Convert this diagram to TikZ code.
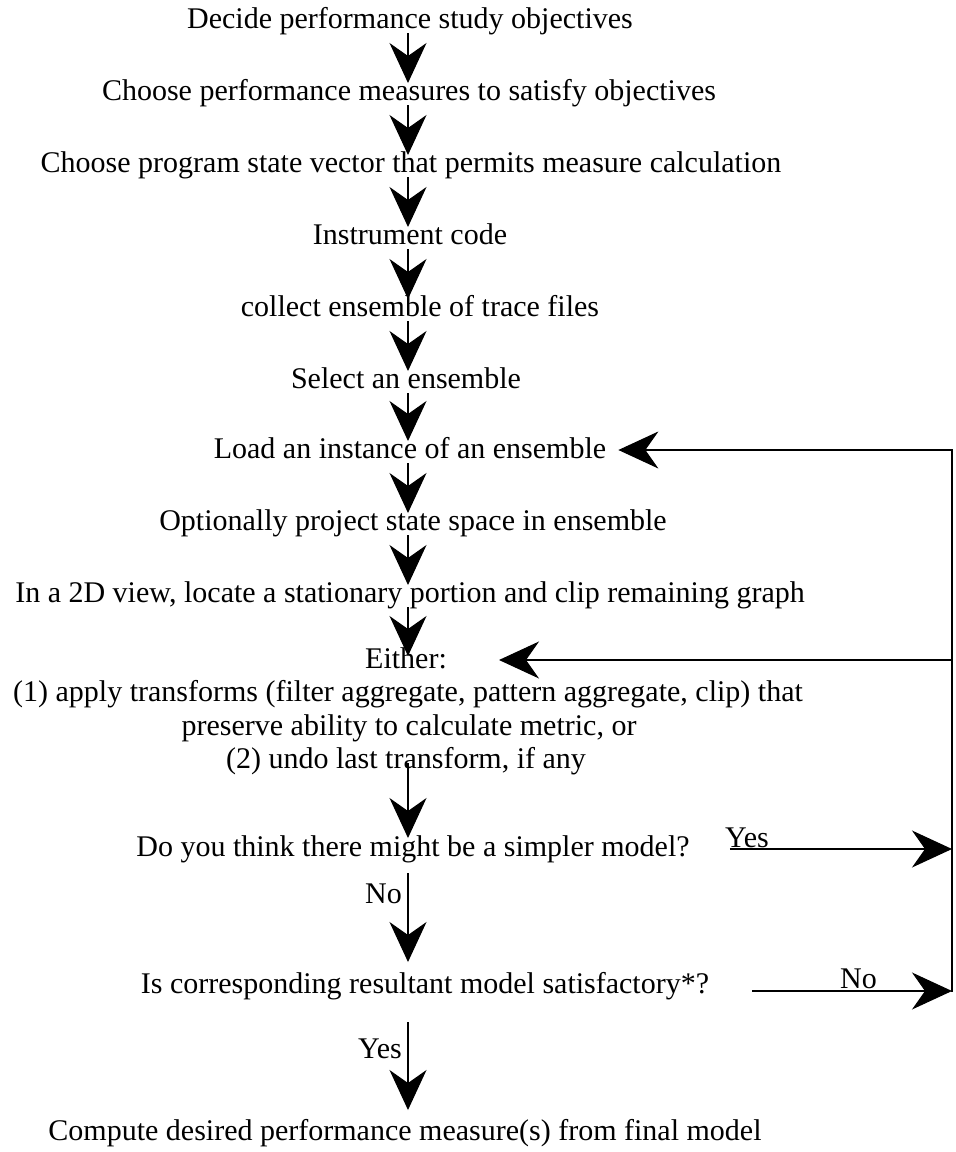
\documentclass[tikz,border=0pt]{standalone}
\usepackage{fontspec}
\setmainfont{Liberation Serif}
\usetikzlibrary{arrows.meta}
\begin{document}
\begin{tikzpicture}[x=1pt,y=-1pt,
  lbl/.style={inner sep=0pt, anchor=base, font=\fontsize{30}{35}\selectfont},
  tag/.style={lbl, anchor=base west},
  flow/.style={line width=1.1pt, -{Stealth[length=40pt,width=37pt,inset=13pt]}},
  rail/.style={line width=1.1pt, line cap=rect}]
\useasboundingbox[fill=white] (0,0) rectangle (956,1152);
\coordinate (spine) at (408,0);

% main sequence of steps
\node[lbl] (s1) at (410,28) {Decide performance study objectives};
\node[lbl] (s2) at (409,100) {Choose performance measures to satisfy objectives};
\node[lbl] (s3) at (411,172) {Choose program state vector that permits measure calculation};
\node[lbl] (s4) at (410,244) {Instrument code};
\node[lbl] (s5) at (420,316) {collect ensemble of trace files};
\node[lbl] (s6) at (406,388) {Select an ensemble};
\node[lbl] (s7) at (410,458) {Load an instance of an ensemble};
\node[lbl] (s8) at (413,530) {Optionally project state space in ensemble};
\node[lbl] (s9) at (410,602) {In a 2D view, locate a stationary portion and clip remaining graph};
\node[lbl] (e0) at (406,668) {Either:};
\node[lbl] (e1) at (408,701) {(1) apply transforms (filter aggregate, pattern aggregate, clip) that};
\node[lbl] (e2) at (409,735) {preserve ability to calculate metric, or};
\node[lbl] (e3) at (406,768) {(2) undo last transform, if any};
\node[lbl] (q1) at (413,856) {Do you think there might be a simpler model?};
\node[lbl] (q2) at (425,993) {Is corresponding resultant model satisfactory*?};
\node[lbl] (s10) at (405,1140) {Compute desired performance measure(s) from final model};

% downward arrows
\foreach \a/\b in {s1/s2,s2/s3,s3/s4,s4/s5,s5/s6,s6/s7,s7/s8,s8/s9}
  \draw[flow] ([yshift=-5pt]\a.base -| spine) -- ([yshift=17pt]\b.base -| spine);
\draw[flow] ([yshift=-5pt]s9.base -| spine) -- ([yshift=12pt]e0.base -| spine);
\draw[flow] ([yshift=5pt]e3.base -| spine) -- ([yshift=18pt]q1.base -| spine);
\draw[flow] ([yshift=-17pt]q1.base -| spine) -- ([yshift=31pt]q2.base -| spine);
\draw[flow] ([yshift=-29pt]q2.base -| spine) -- ([yshift=30pt]s10.base -| spine);

% feedback loop on the right
\coordinate (rTop) at (952,450);
\coordinate (rMid) at (952,660);
\coordinate (rYes) at (952,849);
\coordinate (rNo) at (952,991);
\draw[rail] (rTop) -- (rNo);
\draw[flow] (rTop) -- ([xshift=12pt]s7.east |- rTop);
\draw[flow] (rMid) -- ([xshift=52pt]e0.east |- rMid);
\draw[flow] ([xshift=40pt]q1.east |- rYes) -- (rYes);
\draw[flow] ([xshift=43pt]q2.east |- rNo) -- (rNo);

% branch labels
\node[tag] (yes1) at (725,847) {Yes};
\node[tag] (no1) at (365,903) {No};
\node[tag] (yes2) at (358,1058) {Yes};
\node[tag] (no2) at (840,988) {No};
\end{tikzpicture}
\end{document}
